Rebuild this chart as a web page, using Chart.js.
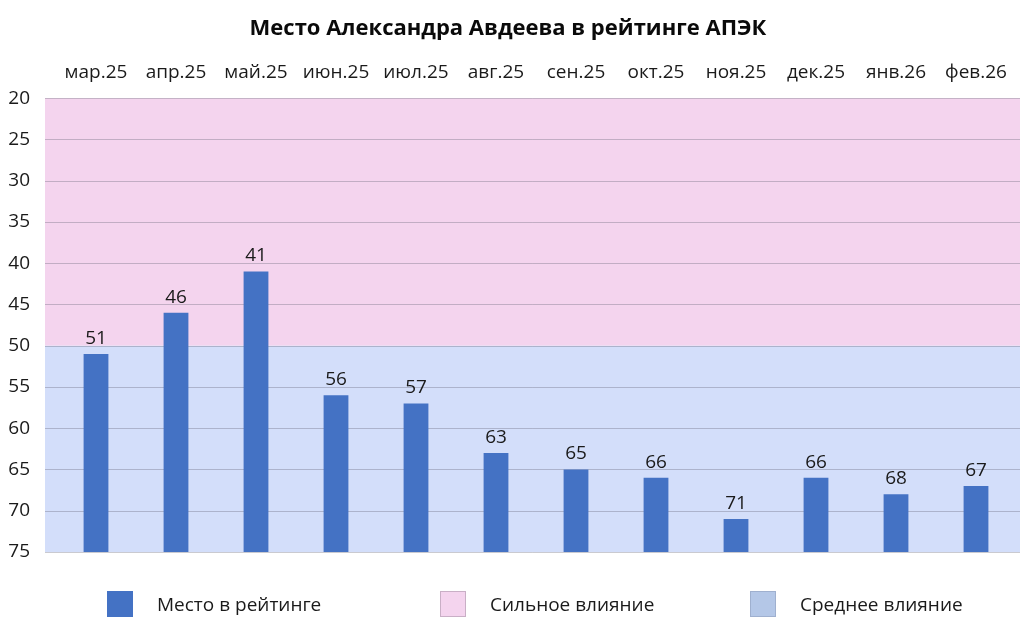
<!DOCTYPE html>
<html>
<head>
<meta charset="utf-8">
<script src="https://cdn.jsdelivr.net/npm/chart.js@4"></script>
<style>
  html, body { margin: 0; padding: 0; background: #fff; }
  #wrap { position: relative; width: 1024px; height: 636px; }
  #legend { position: absolute; left: 0; top: 590px; width: 1024px; height: 28px;
            font-family: "Open Sans", sans-serif; font-size: 19px; color: #1a1a1a; }
  .item { position: absolute; top: 0; height: 27px; display: flex; align-items: center; }
  .box { width: 26px; height: 26px; box-sizing: border-box; margin-right: 24px; }
</style>
</head>
<body>
<div id="wrap">
  <canvas id="chart" width="1024" height="636"></canvas>
  <div id="legend"></div>
</div>
<script>
document.addEventListener('DOMContentLoaded', () => {
  // Data
  const months = ['мар.25', 'апр.25', 'май.25', 'июн.25', 'июл.25', 'авг.25',
                  'сен.25', 'окт.25', 'ноя.25', 'дек.25', 'янв.26', 'фев.26'];
  const places = [51, 46, 41, 56, 57, 63, 65, 66, 71, 66, 68, 67];
  const bandLimits = [20, 50, 75]; // strong influence: 20-50, medium: 50-75
  const legendNames = ['Место в рейтинге', 'Сильное влияние', 'Среднее влияние'];

  const barColor = '#4472C4';
  const bandColors = ['#F4D4EE', '#D3DEFA'];
  const legendColors = [barColor, '#F4D4EE', '#B4C7E7'];
  const legendBorders = [barColor, '#C9AFC6', '#9FB0CF'];
  const legendLefts = [107, 440, 750];

  const yMin = bandLimits[0];
  const yMax = bandLimits[bandLimits.length - 1];

  // Bands + grid lines behind bars
  const bandsPlugin = {
    id: 'bands',
    beforeDatasetsDraw(chart) {
      const { ctx, chartArea, scales } = chart;
      const y = scales.y;
      const left = chartArea.left - 11;
      const right = chartArea.right + 4;
      ctx.save();
      for (let i = 0; i < bandColors.length; i++) {
        const y1 = y.getPixelForValue(bandLimits[i]);
        const y2 = y.getPixelForValue(bandLimits[i + 1]);
        ctx.fillStyle = bandColors[i];
        ctx.fillRect(left, Math.min(y1, y2), right - left, Math.abs(y2 - y1));
      }
      ctx.strokeStyle = 'rgba(90, 90, 110, 0.32)';
      ctx.lineWidth = 1;
      y.ticks.forEach(t => {
        const py = Math.round(y.getPixelForValue(t.value)) + 0.5;
        ctx.beginPath();
        ctx.moveTo(left, py);
        ctx.lineTo(right, py);
        ctx.stroke();
      });
      ctx.restore();
    }
  };

  // Value labels above bars
  const valueLabels = {
    id: 'valueLabels',
    afterDatasetsDraw(chart) {
      const { ctx, scales } = chart;
      const meta = chart.getDatasetMeta(0);
      ctx.save();
      ctx.font = '19px "Open Sans", sans-serif';
      ctx.fillStyle = '#1a1a1a';
      ctx.textAlign = 'center';
      ctx.textBaseline = 'bottom';
      meta.data.forEach((bar, i) => {
        const top = scales.y.getPixelForValue(places[i]);
        ctx.fillText(String(places[i]), bar.x, top - 6);
      });
      ctx.restore();
    }
  };

  new Chart(document.getElementById('chart'), {
    type: 'bar',
    data: {
      labels: months,
      datasets: [{
        label: legendNames[0],
        data: places.map(v => [yMax, v]),
        backgroundColor: barColor,
        borderWidth: 0,
        barPercentage: 0.31,
        categoryPercentage: 1
      }]
    },
    options: {
      responsive: false,
      animation: false,
      layout: { padding: { top: 0, right: 8, bottom: 84, left: 0 } },
      plugins: {
        legend: { display: false },
        tooltip: { enabled: false },
        title: {
          display: true,
          text: 'Место Александра Авдеева в рейтинге АПЭК',
          color: '#0a0a0a',
          font: { family: 'Open Sans', size: 22, weight: 'bold' },
          padding: { top: 16, bottom: 5 }
        }
      },
      scales: {
        x: {
          position: 'top',
          grid: { display: false, drawTicks: false },
          border: { display: false },
          ticks: {
            color: '#1a1a1a',
            font: { family: 'Open Sans', size: 19 },
            padding: 14,
            maxRotation: 0
          }
        },
        y: {
          reverse: true,
          min: yMin,
          max: yMax,
          grid: { display: false, drawTicks: false },
          border: { display: false },
          ticks: {
            stepSize: 5,
            color: '#1a1a1a',
            font: { family: 'Open Sans', size: 19 },
            padding: 26
          },
          afterFit(scale) { scale.width = 56; }
        }
      }
    },
    plugins: [bandsPlugin, valueLabels]
  });

  // Legend
  const legend = document.getElementById('legend');
  legendNames.forEach((name, i) => {
    const item = document.createElement('div');
    item.className = 'item';
    item.style.left = legendLefts[i] + 'px';
    const box = document.createElement('div');
    box.className = 'box';
    box.style.background = legendColors[i];
    box.style.border = '1px solid ' + legendBorders[i];
    const txt = document.createElement('span');
    txt.textContent = name;
    item.appendChild(box);
    item.appendChild(txt);
    legend.appendChild(item);
  });
});
</script>
</body>
</html>
